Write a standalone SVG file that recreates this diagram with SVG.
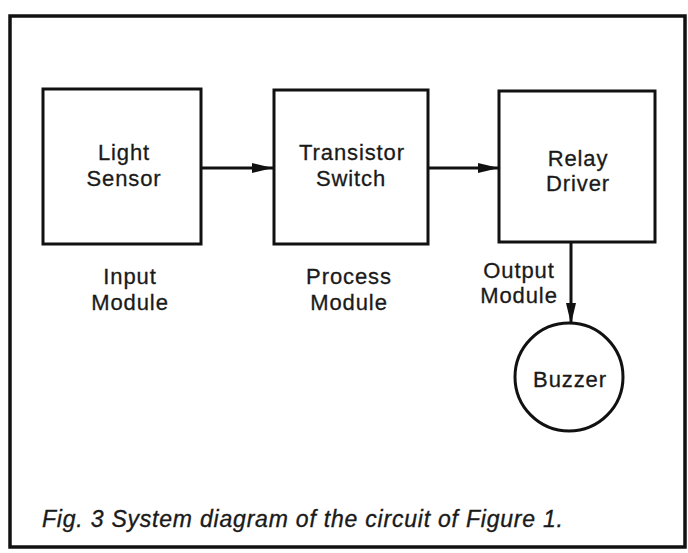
<svg xmlns="http://www.w3.org/2000/svg" width="688" height="553" viewBox="0 0 688 553">
  <style>
    .frame { fill: none; stroke: #111; stroke-width: 3.5; }
    .box { fill: none; stroke: #111; stroke-width: 3; }
    .wire { fill: none; stroke: #111; stroke-width: 3; }
    .lbl { font-family: "Liberation Sans", Arial, sans-serif; font-size: 22px; letter-spacing: 0.9px; fill: #1a1a1a; stroke: #1a1a1a; stroke-width: 0.3; text-anchor: middle; }
    .cap { font-family: "Liberation Sans", Arial, sans-serif; font-size: 23px; font-style: italic; fill: #1a1a1a; stroke: #1a1a1a; stroke-width: 0.35; }
  </style>
  <defs>
    <marker id="arrow" markerUnits="userSpaceOnUse" markerWidth="22" markerHeight="12" refX="21" refY="6" orient="auto">
      <path d="M0,1 L21,6 L0,11 Z" fill="#111"/>
    </marker>
  </defs>
  <rect fill="#fff" x="0" y="0" width="688" height="553"/>

  <!-- outer frame -->
  <rect class="frame" x="10" y="16" width="675" height="531"/>

  <!-- connectors -->
  <g id="connectors">
    <line class="wire" x1="201" y1="168" x2="273" y2="168" marker-end="url(#arrow)"/>
    <line class="wire" x1="428" y1="168" x2="499" y2="168" marker-end="url(#arrow)"/>
    <line class="wire" x1="571" y1="243" x2="571" y2="324" marker-end="url(#arrow)"/>
  </g>

  <g id="light-sensor">
    <rect class="box" x="43" y="89" width="158" height="155"/>
    <text class="lbl" x="124" y="160">Light</text>
    <text class="lbl" x="124" y="186">Sensor</text>
  </g>
  <text class="lbl" x="130" y="284">Input</text>
  <text class="lbl" x="130" y="310">Module</text>

  <g id="transistor-switch">
    <rect class="box" x="274" y="90" width="154" height="154"/>
    <text class="lbl" x="352" y="160">Transistor</text>
    <text class="lbl" x="351" y="186">Switch</text>
  </g>
  <text class="lbl" x="349" y="284">Process</text>
  <text class="lbl" x="349" y="310">Module</text>

  <g id="relay-driver">
    <rect class="box" x="499" y="91" width="156" height="151"/>
    <text class="lbl" x="578" y="166">Relay</text>
    <text class="lbl" x="578" y="191">Driver</text>
  </g>
  <text class="lbl" x="519" y="278">Output</text>
  <text class="lbl" x="519" y="303">Module</text>

  <g id="buzzer">
    <circle class="box" cx="569" cy="377" r="54"/>
    <text class="lbl" x="570" y="387">Buzzer</text>
  </g>

  <text class="cap" x="42" y="527" textLength="521" lengthAdjust="spacing">Fig. 3 System diagram of the circuit of Figure 1.</text>
</svg>
